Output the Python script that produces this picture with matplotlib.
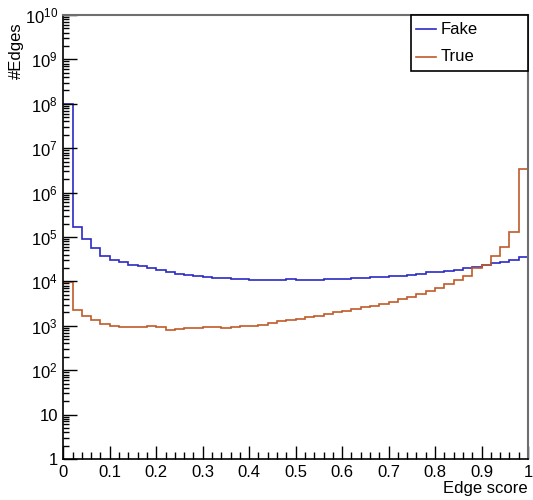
import numpy as np
import matplotlib
matplotlib.use('Agg')
import matplotlib.pyplot as plt
from matplotlib.patches import Rectangle
from matplotlib.ticker import FixedLocator, LogLocator, NullFormatter

plt.rcParams['font.family'] = ['Liberation Sans', 'DejaVu Sans']
plt.rcParams['mathtext.fontset'] = 'custom'
plt.rcParams['mathtext.rm'] = 'Liberation Sans'
plt.rcParams['mathtext.it'] = 'Liberation Sans'

# 50 bins of edge score in [0, 1]
bin_edges = np.linspace(0.0, 1.0, 51)

fake_counts = [
    1.0e8, 1.7e5, 8.9e4, 5.6e4, 3.7e4, 3.1e4, 2.7e4, 2.4e4, 2.2e4, 2.0e4,
    1.8e4, 1.65e4, 1.5e4, 1.4e4, 1.33e4, 1.25e4, 1.2e4, 1.17e4, 1.15e4, 1.12e4,
    1.1e4, 1.1e4, 1.1e4, 1.1e4, 1.12e4, 1.1e4, 1.1e4, 1.1e4, 1.12e4, 1.13e4,
    1.15e4, 1.17e4, 1.2e4, 1.23e4, 1.26e4, 1.3e4, 1.33e4, 1.4e4, 1.5e4, 1.6e4,
    1.65e4, 1.75e4, 1.85e4, 2.0e4, 2.15e4, 2.35e4, 2.55e4, 2.8e4, 3.1e4, 3.6e4,
]

true_counts = [
    9500, 2300, 1700, 1350, 1100, 1000, 950, 950, 940, 970,
    950, 800, 860, 900, 910, 920, 930, 910, 950, 980,
    1000, 1050, 1130, 1250, 1350, 1450, 1600, 1700, 1850, 2000,
    2200, 2400, 2600, 2850, 3100, 3500, 4000, 4500, 5100, 6000,
    7200, 8600, 10700, 13500, 20000, 24000, 38000, 60000, 127000, 3.4e6,
]

series_names = ['Fake', 'True']
series_colors = ['#2a2ac4', '#c05a28']

x_ticks = [0.0, 0.1, 0.2, 0.3, 0.4, 0.5, 0.6, 0.7, 0.8, 0.9, 1.0]
x_ticklabels = ['0', '0.1', '0.2', '0.3', '0.4', '0.5', '0.6', '0.7', '0.8', '0.9', '1']
y_ticks = [10.0**k for k in range(11)]
y_ticklabels = ['1', '10'] + [r'$10^{%d}$' % k for k in range(2, 11)]

fig = plt.figure(figsize=(5.33, 5.0), dpi=100)
ax = fig.add_axes([0.1188, 0.082, 0.8718, 0.888])

for counts, name, col in zip([fake_counts, true_counts], series_names, series_colors):
    ax.stairs(counts, bin_edges, baseline=None, color=col, lw=1.2, label=name)

ax.set_yscale('log')
ax.set_xlim(0, 1)
ax.set_ylim(1, 1e10)

#x axis
ax.xaxis.set_major_locator(FixedLocator(x_ticks))
ax.set_xticklabels(x_ticklabels)
ax.xaxis.set_minor_locator(FixedLocator(np.arange(0, 1.0001, 0.02)))

#y axis
ax.yaxis.set_major_locator(FixedLocator(y_ticks))
ax.set_yticklabels(y_ticklabels)
ax.yaxis.set_minor_locator(LogLocator(base=10, subs=np.arange(2, 10), numticks=20))
ax.yaxis.set_minor_formatter(NullFormatter())

ax.tick_params(which='both', direction='in', labelsize=12, color='black',
               top=False, right=False)
ax.tick_params(axis='x', which='major', length=9.5, width=1, pad=4)
ax.tick_params(axis='x', which='minor', length=5, width=1)
ax.tick_params(axis='y', which='major', length=10, width=1, pad=4)
ax.tick_params(axis='y', which='minor', length=4.5, width=1)

for side in ['left', 'bottom']:
    ax.spines[side].set_color('black')
    ax.spines[side].set_linewidth(1.2)
for side in ['top', 'right']:
    ax.spines[side].set_color('#6e6e6e')
    ax.spines[side].set_linewidth(1.5)

#labels
fig.text(0.03, 0.956, '#Edges', rotation=90, ha='center', va='top', fontsize=12)
fig.text(0.99, 0.024, 'Edge score', ha='right', va='center', fontsize=12)

#legend box (fixed size, top right corner of the frame)
ax.add_patch(Rectangle((0.749, 0.8745), 0.251, 0.1255, transform=ax.transAxes,
                       facecolor='white', edgecolor='black', lw=1.2, zorder=5,
                       clip_on=False))
for i, (name, col) in enumerate(zip(series_names, series_colors)):
    ly = 0.9678 - i * 0.0618
    ax.plot([0.76, 0.8015], [ly, ly], color=col, lw=1.2, transform=ax.transAxes,
            zorder=6, clip_on=False)
    ax.text(0.8123, ly, name, transform=ax.transAxes, ha='left', va='center',
            fontsize=12, zorder=6)

fig.savefig('out.png', dpi=100)
